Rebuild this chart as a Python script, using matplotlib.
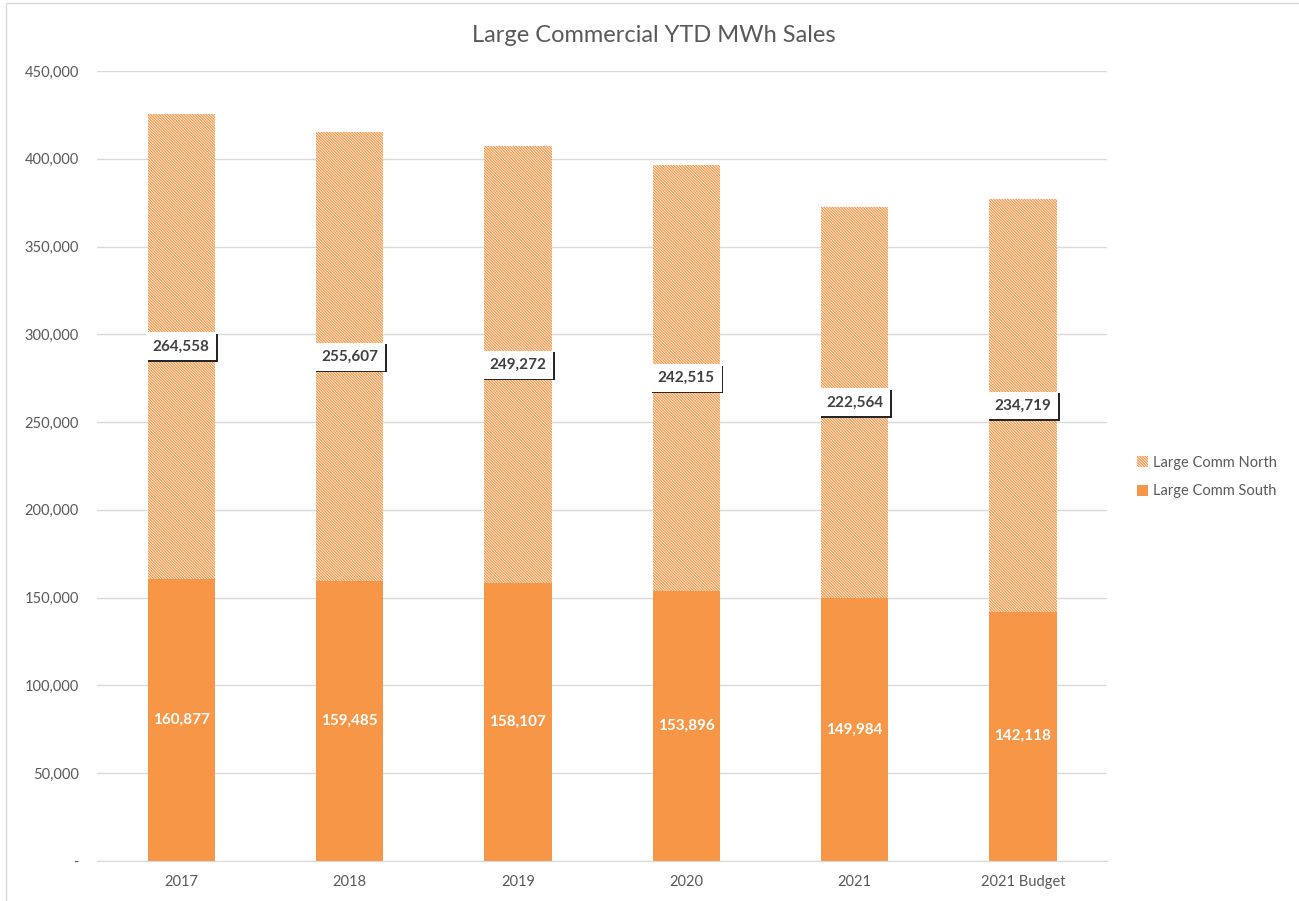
import matplotlib
matplotlib.use("Agg")
import matplotlib.pyplot as plt
from matplotlib.patches import Rectangle, Patch
from matplotlib.ticker import FuncFormatter

categories = ["2017", "2018", "2019", "2020", "2021", "2021 Budget"]
south = [160877, 159485, 158107, 153896, 149984, 142118]
north = [264558, 255607, 249272, 242515, 222564, 234719]
y_ticks = [0, 50000, 100000, 150000, 200000, 250000, 300000, 350000, 400000, 450000]

ORANGE = "#F79646"
GRID = "#D9D9D9"
TEXT = "#595959"
HATCH = "\\" * 12

plt.rcParams["font.family"] = ["Lato", "DejaVu Sans"]
plt.rcParams["hatch.color"] = ORANGE
plt.rcParams["hatch.linewidth"] = 0.9

W, H = 1299, 901
fig = plt.figure(figsize=(W / 100, H / 100), dpi=100)
ax = fig.add_axes([97 / W, 1 - 861 / H, (1107 - 97) / W, (861 - 71) / H])

x = list(range(len(categories)))
width = 0.4

ax.bar(x, south, width, color=ORANGE, edgecolor="none", zorder=2, label="Large Comm South")
ax.bar(x, north, width, bottom=south, facecolor="white", edgecolor=ORANGE,
       linewidth=0, hatch=HATCH, zorder=2, label="Large Comm North")

ax.set_xlim(-0.5, len(categories) - 0.5)
ax.set_ylim(0, 450000)
ax.set_yticks(y_ticks)
ax.yaxis.set_major_formatter(FuncFormatter(lambda v, p: "-" if v == 0 else f"{int(v):,}"))
ax.set_xticks(x)
ax.set_xticklabels(categories)
ax.tick_params(axis="both", length=0, labelsize=10.5, colors=TEXT)
ax.tick_params(axis="y", pad=13)
ax.tick_params(axis="x", pad=10)
ax.grid(axis="y", color=GRID, linewidth=1, zorder=0)
ax.set_axisbelow(True)
for s in ["left", "right", "top"]:
    ax.spines[s].set_visible(False)
ax.spines["bottom"].set_color(GRID)

# value labels
for i in x:
    ax.text(i, south[i] / 2, f"{south[i]:,}", ha="center", va="center",
            color="white", fontsize=11, fontweight="bold", zorder=5)
    ymid = south[i] + north[i] / 2
    # shadow box behind the label
    ax.annotate(f"{north[i]:,}", (i, ymid), xytext=(1.2, -1.2), textcoords="offset points",
                ha="center", va="center", fontsize=11, fontweight="bold", color="#262626",
                bbox=dict(boxstyle="square,pad=0.45", facecolor="#262626", edgecolor="none"),
                zorder=5)
    ax.annotate(f"{north[i]:,}", (i, ymid), xytext=(0, 0), textcoords="offset points",
                ha="center", va="center", fontsize=11, fontweight="bold", color="#404040",
                bbox=dict(boxstyle="square,pad=0.45", facecolor="white", edgecolor="none"),
                zorder=6)

fig.text(0.503, 1 - 35 / H, "Large Commercial YTD MWh Sales", ha="center", va="center",
         fontsize=17, color=TEXT)

handles = [Patch(facecolor="white", edgecolor=ORANGE, linewidth=0, hatch=HATCH),
           Patch(facecolor=ORANGE, edgecolor="none")]
fig.legend(handles, ["Large Comm North", "Large Comm South"], loc="center left",
           bbox_to_anchor=(1124 / W, 1 - 477 / H), frameon=False, fontsize=10.5,
           labelcolor=TEXT, handlelength=0.75, handleheight=0.75, handletextpad=0.35,
           labelspacing=1.0)

# chart border
fig.patches.append(Rectangle((6 / W, -0.01), 1.02, 1 - 3 / H + 0.01, transform=fig.transFigure,
                             fill=False, edgecolor=GRID, linewidth=1))

fig.savefig("out.png", dpi=100)
